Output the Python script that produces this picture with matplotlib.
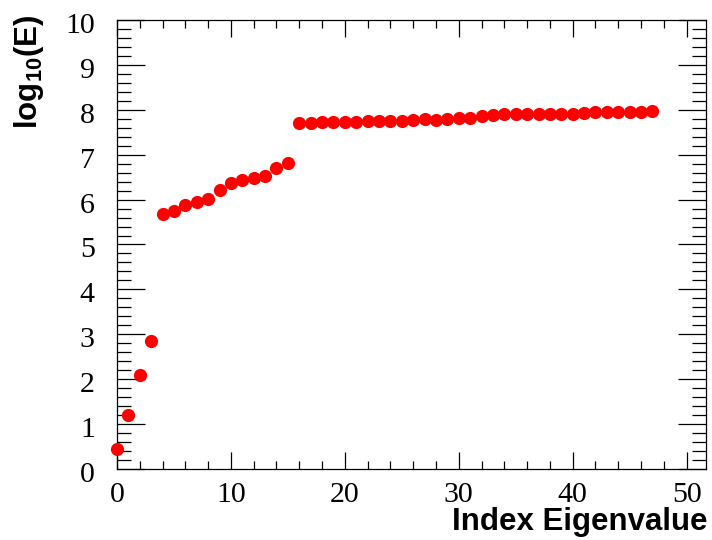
import matplotlib
matplotlib.use("Agg")
import matplotlib.pyplot as plt
import matplotlib.transforms as mtransforms
from matplotlib.ticker import MultipleLocator

index = list(range(48))
log_e = [0.45, 1.20, 2.09, 2.84, 5.68, 5.74, 5.89, 5.95, 6.01, 6.21,
         6.36, 6.44, 6.49, 6.53, 6.70, 6.81,
         7.70, 7.71, 7.72, 7.72, 7.72, 7.73, 7.75, 7.74, 7.75, 7.76,
         7.78, 7.79, 7.78, 7.79, 7.81, 7.81, 7.87, 7.88, 7.90, 7.90,
         7.90, 7.90, 7.90, 7.91, 7.91, 7.92, 7.96, 7.96, 7.96, 7.96,
         7.96, 7.97]
x_label = "Index Eigenvalue"
y_label = r"log$_{10}$(E)"

plt.rcParams['mathtext.fontset'] = 'custom'
plt.rcParams['mathtext.rm'] = 'Liberation Sans:bold'
plt.rcParams['mathtext.it'] = 'Liberation Sans:bold'
plt.rcParams['mathtext.bf'] = 'Liberation Sans:bold'

W, H = 712, 540
fig = plt.figure(figsize=(W / 100, H / 100), dpi=100)
ax = fig.add_axes([117 / W, 1 - 469 / H, (706 - 117) / W, (469 - 20) / H])

ax.plot(index, log_e, linestyle='none', marker='o', markersize=9.5,
        color='#ff0000', markeredgewidth=0, clip_on=False, zorder=5)

ax.set_xlim(0, 51.7)
ax.set_ylim(0, 10)
ax.xaxis.set_major_locator(MultipleLocator(10))
ax.xaxis.set_minor_locator(MultipleLocator(2))
ax.yaxis.set_major_locator(MultipleLocator(1))
ax.yaxis.set_minor_locator(MultipleLocator(0.2))

for s in ax.spines.values():
    s.set_linewidth(0.9)

ax.tick_params(axis='x', which='major', direction='in', length=12, width=0.9,
               top=True, bottom=True, pad=9)
ax.tick_params(axis='x', which='minor', direction='in', length=6, width=0.9,
               top=True, bottom=True)
ax.tick_params(axis='y', which='major', direction='in', length=20, width=0.9,
               left=True, right=True, pad=16)
ax.tick_params(axis='y', which='minor', direction='in', length=10, width=0.9,
               left=True, right=True)

ydown = mtransforms.ScaledTranslation(0, -3 / 100, fig.dpi_scale_trans)
for lab in ax.get_xticklabels() + ax.get_yticklabels():
    lab.set_fontfamily('Liberation Serif')
    lab.set_fontsize(21.5)
for lab in ax.get_yticklabels():
    lab.set_transform(lab.get_transform() + ydown)

fig.text(708 / W, 1 - 530 / H, x_label, ha='right', va='baseline',
         fontfamily='Liberation Sans', fontweight='bold', fontsize=22.5)
fig.text(29 / W, 1 - 15 / H, y_label, ha='center', va='top', rotation=90,
         fontfamily='Liberation Sans', fontweight='bold', fontsize=22.5)

fig.savefig('out.png', dpi=100)
